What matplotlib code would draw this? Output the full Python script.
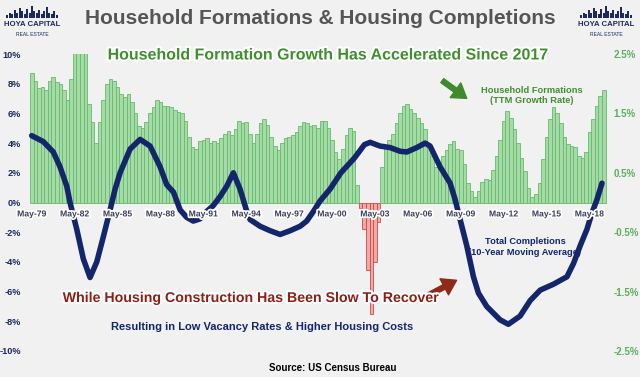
import numpy as np
import matplotlib
matplotlib.use("Agg")
import matplotlib.pyplot as plt
import matplotlib.patheffects as pe

plt.rcParams['font.family'] = ['Liberation Sans', 'DejaVu Sans']

# household formations, TTM growth rate (%), quarterly from May-79 (right axis)
hh_growth = [
    2.18, 2.05, 1.93, 1.95, 1.90, 2.05, 2.11, 2.03, 2.00, 1.90,
    1.73, 2.08, 2.60, 2.70, 2.70, 2.60, 1.65, 1.35, 1.00, 1.35,
    1.73, 2.00, 2.08, 2.05, 1.95, 1.83, 1.78, 1.83, 1.70, 1.50,
    1.28, 1.25, 1.35, 1.50, 1.60, 1.73, 1.70, 1.63, 1.63, 1.60,
    1.55, 1.53, 1.50, 1.38, 1.10, 0.93, 0.90, 1.03, 1.05, 1.08,
    1.00, 1.03, 1.00, 1.08, 1.15, 1.20, 1.13, 1.23, 1.38, 1.33,
    1.35, 1.15, 1.00, 1.15, 1.33, 1.40, 1.30, 1.10, 0.95, 0.88,
    1.00, 1.08, 1.10, 1.13, 1.18, 1.28, 1.35, 1.33, 1.28, 1.30,
    1.25, 1.38, 1.38, 1.25, 1.05, 0.85, 0.73, 0.90, 1.13, 1.25,
    1.20, 0.30, -0.10, -0.45, -1.13, -1.88, -1.00, -0.33, 0.60, 0.90,
    1.05, 1.15, 1.33, 1.50, 1.63, 1.65, 1.58, 1.50, 1.43, 1.33,
    1.23, 1.00, 0.78, 0.60, 0.58, 0.78, 0.88, 0.98, 1.03, 0.90,
    0.88, 0.65, 0.33, 0.20, 0.10, 0.20, 0.35, 0.40, 0.38, 0.55,
    0.78, 1.05, 1.38, 1.54, 1.43, 1.23, 1.00, 0.75, 0.53, 0.25,
    0.10, 0.15, 0.33, 0.73, 1.10, 1.40, 1.60, 1.50, 1.33, 1.10,
    0.98, 0.95, 0.93, 0.78, 0.75, 0.85, 1.18, 1.40, 1.63, 1.80,
    1.90,
]

# total completions, 10-year moving average (% change, left axis)
comp_years = [
    1979.33, 1980.14, 1980.84, 1981.31, 1981.78, 1982.01, 1982.48, 1982.94,
    1983.41, 1983.88, 1984.34, 1984.81, 1985.16, 1985.51, 1986.21, 1986.91,
    1987.61, 1988.31, 1988.77, 1989.24, 1989.71, 1990.17, 1990.63, 1991.10,
    1991.57, 1992.03, 1992.50, 1992.97, 1993.43, 1993.90, 1994.37, 1994.60,
    1995.30, 1996.00, 1996.70, 1997.40, 1998.10, 1998.56, 1999.03, 1999.49,
    2000.19, 2000.95, 2001.90, 2002.60, 2003.00, 2003.69, 2004.39, 2005.09,
    2005.56, 2006.26, 2006.84, 2007.19, 2007.89, 2008.59, 2008.94, 2009.29,
    2009.75, 2010.22, 2010.57, 2011.15, 2012.08, 2012.66, 2013.48, 2014.19,
    2014.89, 2015.82, 2016.76, 2017.22, 2017.69, 2018.16, 2018.51, 2018.86,
    2019.21,
]
completions = [
    4.5, 4.1, 3.4, 2.4, 1.1, 0.0, -1.8, -3.8,
    -5.05, -4.0, -2.3, -0.5, 0.9, 2.0, 3.6, 4.25,
    3.8, 2.4, 1.2, 0.7, -0.5, -1.0, -1.25, -1.1,
    -0.6, -0.2, 0.4, 1.1, 2.0, 0.9, -0.6, -1.15,
    -1.6, -1.9, -2.15, -1.9, -1.6, -1.25, -0.6, 0.1,
    0.9, 2.0, 3.0, 3.9, 4.05, 3.8, 3.7, 3.45,
    3.4, 3.7, 4.0, 3.8, 2.4, 1.3, 0.2, -1.15,
    -2.9, -5.0, -6.1, -7.0, -7.9, -8.2, -7.65, -6.6,
    -5.9, -5.5, -5.0, -4.1, -2.9, -1.8, -0.7, 0.2,
    1.3,
]

tick_years = [1979, 1982, 1985, 1988, 1991, 1994, 1997, 2000, 2003, 2006, 2009, 2012, 2015, 2018]
tick_labels = ['May-79', 'May-82', 'May-85', 'May-88', 'May-91', 'May-94', 'May-97',
               'May-00', 'May-03', 'May-06', 'May-09', 'May-12', 'May-15', 'May-18']
left_ticks = [10, 8, 6, 4, 2, 0, -2, -4, -6, -8, -10]
right_ticks = [2.5, 1.5, 0.5, -0.5, -1.5, -2.5]
skyline = [3, 5, 4, 7, 5, 9, 6, 4, 8, 5, 11, 6, 5, 7, 4, 6, 10, 5, 4, 6, 3]

bg = '#f1f1f1'
navy = '#13266b'
green = '#3f8f2f'
dark_red = '#8e1f17'

hh = np.array(hh_growth)
q_years = 1979 + 4 / 12 + 0.25 * np.arange(len(hh))

fig = plt.figure(figsize=(6.4, 3.77), dpi=100, facecolor=bg)
ax = fig.add_axes([28 / 640, 1 - 351 / 377, 580 / 640, 297 / 377])
ax2 = ax.twinx()
ax.set_zorder(ax2.get_zorder() + 1)
ax.patch.set_visible(False)
ax2.patch.set_facecolor(bg)

# bars (right axis)
fills = np.where(hh >= 0, '#a6dba8', '#efa9a6')
edges = np.where(hh >= 0, '#64bb6b', '#cf4a45')
ax2.bar(q_years, hh, width=0.25, color=fills, edgecolor=edges, linewidth=0.6)
ax2.set_ylim(-2.5, 2.5)
ax2.set_yticks(right_ticks)
ax2.set_yticklabels([f'{v:.1f}%' for v in right_ticks])
ax2.tick_params(axis='y', length=0, pad=4, labelsize=7, labelcolor='#5aae5c')
ax2.tick_params(axis='x', length=0, labelbottom=False)
for t in ax2.get_yticklabels():
    t.set_fontweight('bold')

# completions line (left axis)
ax.plot(comp_years, completions, color=navy, lw=4,
        solid_capstyle='round', solid_joinstyle='round')
ax.set_ylim(-10, 10)
ax.set_xlim(1979.07, 2019.63)
ax.set_yticks(left_ticks)
ax.set_yticklabels([f'{v}%' for v in left_ticks])
ax.tick_params(axis='y', length=0, pad=5, labelsize=6.6, labelcolor='#1c2a5c')
for t in ax.get_yticklabels():
    t.set_fontweight('bold')

ax.spines['bottom'].set_position(('data', 0))
ax.set_xticks([y + 4 / 12 for y in tick_years])
ax.set_xticklabels(tick_labels)
ax.tick_params(axis='x', length=0, pad=5, labelsize=6.2, labelcolor='#3b3f5a')
ax.set_axisbelow(False)
for t in ax.get_xticklabels():
    t.set_fontweight('bold')
    t.set_path_effects([pe.withStroke(linewidth=2.5, foreground='white')])

for a in (ax, ax2):
    for s in a.spines.values():
        s.set_visible(False)

# texts
glow = [pe.SimplePatchShadow(offset=(1.2, -1.2), shadow_rgbFace='#777777', alpha=0.35),
        pe.Stroke(linewidth=3, foreground='white'), pe.Normal()]
fig.text(0.5, 1 - 18 / 377, 'Household Formations & Housing Completions',
         ha='center', va='center', fontsize=15, fontweight='bold', color='#555555')
fig.text(329 / 640, 1 - 55 / 377, 'Household Formation Growth Has Accelerated Since 2017',
         ha='center', va='center', fontsize=11.5, fontweight='bold', color=green,
         path_effects=glow, zorder=5)
fig.text(250 / 640, 1 - 298 / 377, 'While Housing Construction Has Been Slow To Recover',
         ha='center', va='center', fontsize=10.2, fontweight='bold', color=dark_red,
         path_effects=glow, zorder=5)
fig.text(262 / 640, 1 - 327 / 377, 'Resulting in Low Vacancy Rates & Higher Housing Costs',
         ha='center', va='center', fontsize=8, fontweight='bold', color=navy)
fig.text(333 / 640, 1 - 368 / 377, 'Source: US Census Bureau',
         ha='center', va='center', fontsize=7, fontweight='bold', color='black')
fig.text(532 / 640, 1 - 95.5 / 377, 'Household Formations\n(TTM Growth Rate)',
         ha='center', va='center', fontsize=6.7, fontweight='bold', color=green,
         multialignment='center', linespacing=1.25)
fig.text(525 / 640, 1 - 247 / 377, 'Total Completions\n(10-Year Moving Average)',
         ha='center', va='center', fontsize=6.7, fontweight='bold', color=navy,
         multialignment='center', linespacing=1.3)

# arrows
fig.add_artist(matplotlib.patches.FancyArrowPatch(
    (440 / 640, 1 - 79 / 377), (469 / 640, 1 - 100 / 377), transform=fig.transFigure,
    arrowstyle='simple,head_width=1.3,head_length=1.0,tail_width=0.35',
    mutation_scale=10, color='#3d8b2d'))
fig.add_artist(matplotlib.patches.FancyArrowPatch(
    (427 / 640, 1 - 296 / 377), (459 / 640, 1 - 279 / 377), transform=fig.transFigure,
    arrowstyle='simple,head_width=1.3,head_length=1.0,tail_width=0.35',
    mutation_scale=10, color='#8e2a1a'))

# logos
for cx in (32, 606):
    lax = fig.add_axes([(cx - 26) / 640, 1 - 18 / 377, 52 / 640, 12 / 377])
    lax.bar(np.arange(len(skyline)), skyline, width=0.8, color='#1b2a5e')
    lax.set_xlim(-0.5, len(skyline) - 0.5)
    lax.set_ylim(0, 11)
    lax.axis('off')
    fig.text(cx / 640, 1 - 25 / 377, 'HOYA CAPITAL', ha='center', va='center',
             fontsize=5.6, fontweight='bold', color='#1b2a5e')
    fig.text(cx / 640, 1 - 34 / 377, 'REAL ESTATE', ha='center', va='center',
             fontsize=3.6, color='#1b2a5e')

fig.savefig('out.png', dpi=100, facecolor=bg)
